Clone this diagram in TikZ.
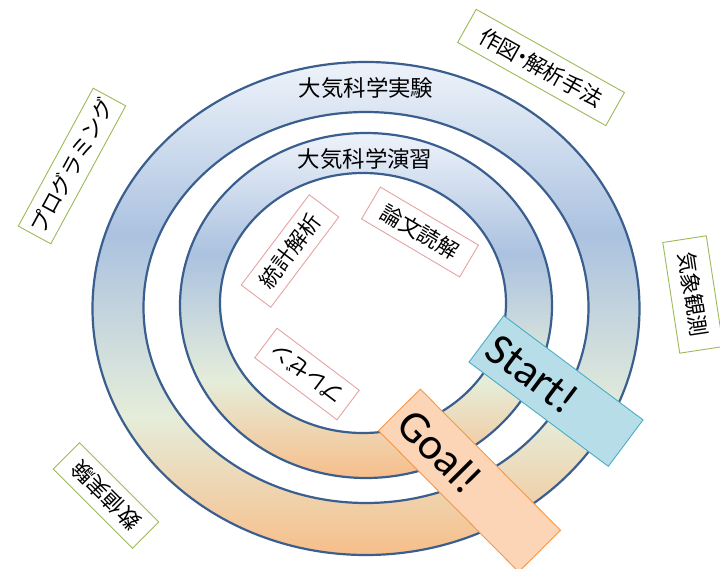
\documentclass[tikz,border=0pt]{standalone}
\usepackage{fontspec}
\setmainfont{Noto Sans CJK JP}
\newfontfamily\latinfont{Carlito}

\definecolor{ringedge}{HTML}{3A5F8F}
\definecolor{ringtop}{HTML}{EEF3FA}
\definecolor{ringblue}{HTML}{ABC2E0}
\definecolor{ringcream}{HTML}{E5EDDA}
\definecolor{ringorange}{HTML}{F7BE8A}
\definecolor{taggreen}{HTML}{9BBB59}
\definecolor{tagred}{HTML}{E6A3A3}
\definecolor{startfill}{HTML}{B7DEE8}
\definecolor{startedge}{HTML}{4BACC6}
\definecolor{goalfill}{HTML}{FBD5B5}
\definecolor{goaledge}{HTML}{F79646}

\pgfdeclareverticalshading{ringgrad}{100bp}{color(0bp)=(ringorange); color(25bp)=(ringorange); color(39bp)=(ringcream); color(57.5bp)=(ringblue); color(75bp)=(ringtop); color(100bp)=(ringtop)}

\tikzset{
  ringline/.style={draw=ringedge, line width=2.2bp},
  ringlabel/.style={font=\fontsize{22.5}{26}\selectfont},
  tagbox/.style={draw=taggreen, line width=0.9bp, fill=white, inner sep=0pt, minimum height=37bp, font=\fontsize{21.5}{24}\selectfont},
  redbox/.style={tagbox, draw=tagred},
  flagbox/.style={line width=0.9bp, inner sep=7bp, align=left, font=\latinfont\fontsize{45}{48}\selectfont}
}

\begin{document}
\begin{tikzpicture}[x=1bp,y=-1bp]
            \useasboundingbox (0,0) rectangle (720,569);

            % rings
            \shade[shading=ringgrad, even odd rule] (366,308.5) ellipse (273.5 and 246.5) (366,307.5) ellipse (222.5 and 195.5);
            \shade[shading=ringgrad, even odd rule] (366,305.5) ellipse (186 and 172.5) (363,303) ellipse (143 and 130);
            \draw[ringline] (366,308.5) ellipse (273.5 and 246.5);
            \draw[ringline] (366,307.5) ellipse (222.5 and 195.5);
            \draw[ringline] (366,305.5) ellipse (186 and 172.5);
            \draw[ringline] (363,303) ellipse (143 and 130);

            \node[ringlabel] (jikken) at (366,88) {大気科学実験};
            \node[ringlabel] (enshu) at (365,159) {大気科学演習};

            % outside
            \node[tagbox, rotate=61.5, minimum width=157bp] (prog) at (72,166) {プログラミング};
            \node[tagbox, rotate=-29.3, minimum width=170bp, minimum height=38bp] (sakuzu) at (541,67.5) {作図\kern-0.3em・\kern-0.3em解析手法};
            \node[tagbox, rotate=-81.3, minimum width=112bp, minimum height=44bp] (kansoku) at (693,294.5) {気象観測};
            \node[tagbox, rotate=135, minimum width=112bp] (suchi) at (106,495.5) {数値実験};

            % inside
            \node[redbox, rotate=53, minimum width=113bp] (tokei) at (290,251) {統計解析};
            \node[redbox, rotate=-30.6, minimum width=114bp] (ronbun) at (420,232) {論文読解};
            \node[redbox, rotate=143, minimum width=103bp] (prez) at (307,374) {プレゼン};

            \node[flagbox, draw=startedge, fill=startfill, rotate=-36.8, text width=160bp, minimum height=58bp] (start) at (556,391) {Start!};
            \node[flagbox, draw=goaledge, fill=goalfill, rotate=-45.2, inner xsep=9bp, text width=181bp, minimum height=59bp] (goal) at (469.5,480.5) {Goal!};
\end{tikzpicture}
\end{document}
